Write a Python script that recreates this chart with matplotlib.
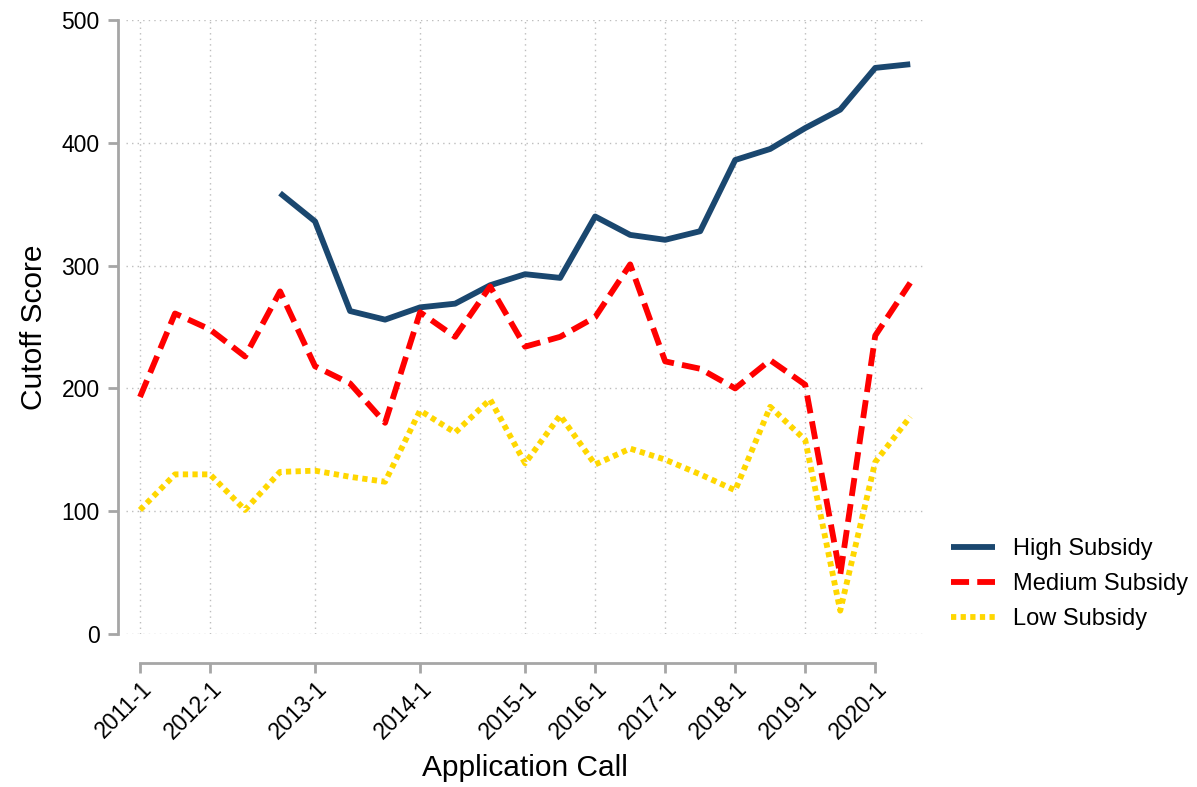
import matplotlib
matplotlib.use("Agg")
import matplotlib.pyplot as plt
import numpy as np

calls = ["2011-1", "2011-2", "2012-1", "2012-2", "2012-3", "2013-1", "2013-2", "2013-3",
         "2014-1", "2014-2", "2014-3", "2015-1", "2015-2", "2016-1", "2016-2",
         "2017-1", "2017-2", "2018-1", "2018-2", "2019-1", "2019-2", "2020-1", "2020-2"]

high = [np.nan, np.nan, np.nan, np.nan, 359, 336, 263, 256, 266, 269, 284, 293, 290,
        340, 325, 321, 328, 386, 395, 412, 427, 461, 464]
medium = [193, 261, 248, 226, 279, 218, 204, 172, 262, 242, 283, 234, 242,
          258, 301, 222, 216, 200, 223, 203, 48, 243, 286]
low = [101, 130, 130, 101, 132, 133, 128, 124, 182, 164, 191, 139, 178,
       138, 151, 142, 130, 117, 185, 158, 19, 140, 177]

series_names = ["High Subsidy", "Medium Subsidy", "Low Subsidy"]
yticks = [0, 100, 200, 300, 400, 500]

plt.rcParams['font.family'] = ['Liberation Sans', 'DejaVu Sans']

W, H = 1197, 787
fig = plt.figure(figsize=(W / 100, H / 100), dpi=100)
ax = fig.add_axes([126 / W, 1 - 634 / H, (926 - 126) / W, (634 - 20) / H])

x = np.arange(len(calls))
grey = "#a6a6a6"
lw = 4.2
ax.plot(x, high, color="#1a476f", lw=lw, solid_capstyle="butt", label=series_names[0], clip_on=False)
ax.plot(x, medium, color="#ff0000", lw=lw, dashes=(3.1, 1.4), dash_capstyle="butt",
        label=series_names[1], clip_on=False)
ax.plot(x, low, color="#ffd700", lw=lw, dashes=(0.9, 0.75), dash_capstyle="butt",
        label=series_names[2], clip_on=False)

ax.set_xlim(-0.4, 22.45)
ax.set_ylim(0, 500)

ax.grid(True, color="#bdbdbd", linestyle=(0, (1, 3)), linewidth=1.0)
ax.set_axisbelow(True)

for s in ["top", "right"]:
    ax.spines[s].set_visible(False)
ax.spines["left"].set_position(("outward", 6))
ax.spines["bottom"].set_position(("outward", 21))
for s in ["left", "bottom"]:
    ax.spines[s].set_color(grey)
    ax.spines[s].set_linewidth(2)
ax.tick_params(axis="both", color=grey, width=2, length=7, labelcolor="black", labelsize=16.5)
ax.tick_params(axis="y", pad=6)
ax.tick_params(axis="x", pad=3)

tick_idx = [i for i, c in enumerate(calls) if c.endswith("-1")]
ax.set_xticks(tick_idx)
ax.set_xticklabels([calls[i] for i in tick_idx])
plt.setp(ax.get_xticklabels(), rotation=45, ha="right", rotation_mode="anchor", fontsize=16.5)
ax.set_yticks(yticks)
ax.set_yticklabels([str(v) for v in yticks])
plt.setp(ax.get_yticklabels(), fontsize=16.5)
ax.spines["left"].set_bounds(0, 500)
ax.spines["bottom"].set_bounds(tick_idx[0], tick_idx[-1])

fig.text(34 / W, 1 - 327 / H, "Cutoff Score", rotation=90, ha="center", va="center", fontsize=21.5)
fig.text(525 / W, 1 - 768 / H, "Application Call", ha="center", va="center", fontsize=21.5)

leg = ax.legend(loc="center left", bbox_to_anchor=(930 / W, 1 - 584 / H),
                bbox_transform=fig.transFigure, frameon=False, fontsize=17,
                handlelength=1.85, handletextpad=0.75, labelspacing=0.55)

fig.savefig("out.png", dpi=100)
